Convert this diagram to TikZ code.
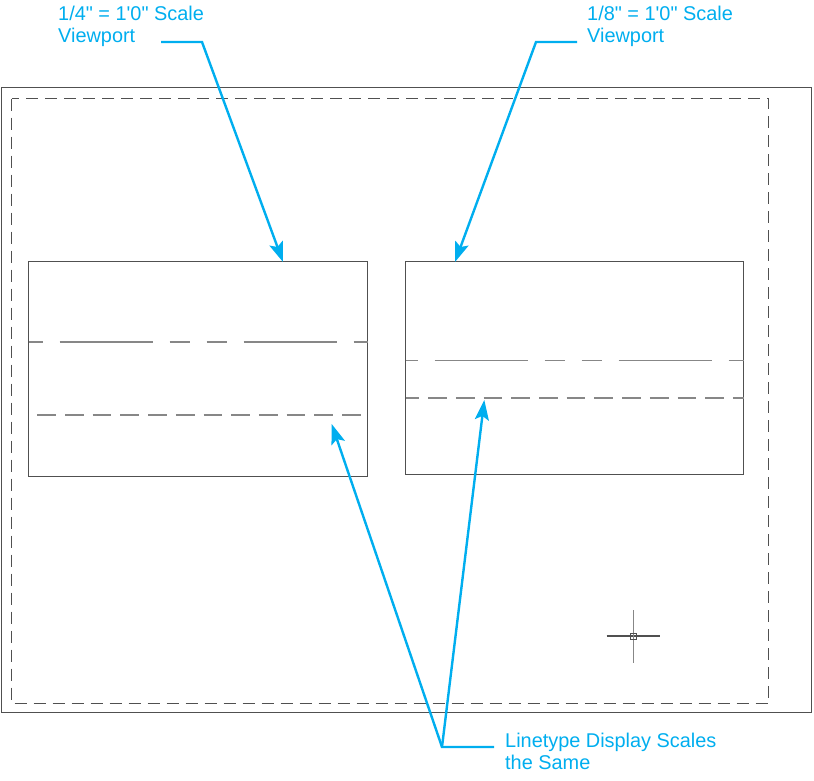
\documentclass[tikz,border=0pt]{standalone}
\usepackage{fontspec}
\newfontfamily\calloutfont{Liberation Sans}
\usetikzlibrary{arrows.meta}
\definecolor{callout}{RGB}{0,174,239}
\definecolor{sheetline}{RGB}{80,80,80}
\definecolor{ltype}{RGB}{135,135,135}
\tikzset{>={Stealth[length=20pt,width=14pt,inset=4pt]}}

\begin{document}
\begin{tikzpicture}[x=1pt,y=-1pt,
    leader/.style={callout,line width=2.4pt,line join=miter},
    lbl/.style={text=callout,font=\calloutfont\fontsize{19.9}{22}\selectfont,align=left,inner sep=0pt,anchor=base west},
    vport/.style={sheetline,line width=1.5pt},
    phantomline/.style={ltype,line width=1.3pt,dash pattern=on 93pt off 17pt on 20pt off 17pt on 20pt off 17pt},
    hiddenline/.style={ltype,line width=1.2pt,dash pattern=on 18.7pt off 9pt}]
    % \draw[help lines] (0,0) grid[step=50] (814,780);
    \useasboundingbox (0,0) rectangle (814,780);
    % sheet and printable area
    \draw[sheetline,line width=1.5pt] (1.5,87.5) rectangle (811.5,712.5);
    \draw[sheetline,line width=1.4pt,dash pattern=on 12pt off 7pt] (11.5,98.5) rectangle (768.5,703.5);
    % viewports
    \coordinate (vpL-nw) at (28.5,261.5);
    \coordinate (vpL-se) at (367.5,476.5);
    \coordinate (vpR-nw) at (405.5,261.5);
    \coordinate (vpR-se) at (743.5,474.5);
    \draw[vport] (vpL-nw) rectangle (vpL-se);
    \draw[vport] (vpR-nw) rectangle (vpR-se);
    % linetypes
    \draw[phantomline,dash phase=153pt] (28.5,342) -- (367.5,342);
    \draw[hiddenline] (37.3,415) -- (361,415);
    \draw[phantomline,dash phase=155pt] (405.5,360.5) -- (743.5,360.5);
    \draw[hiddenline,dash phase=5pt] (405.5,398) -- (743.5,398);
    % crosshair
    \draw[sheetline,line width=1.2pt] (606.5,636) -- (660,636);
    \draw[ltype,line width=1.5pt] (633.3,610) -- (633.3,663);
    \draw[sheetline,line width=1pt] (630.3,633) rectangle (636.3,639);
    % callouts (base = last line)
    \node[lbl] (scaleA) at (58,42) {1/4" = 1'0" Scale\\Viewport};
    \node[lbl] (scaleB) at (587,42) {1/8" = 1'0" Scale\\Viewport};
    \node[lbl] (same) at (505,769) {Linetype Display Scales\\the Same};
    \coordinate (startA) at (161,42);
    \coordinate (elbowA) at (202,42);
    \coordinate (tipA) at (283,262);
    \coordinate (startB) at (577,42);
    \coordinate (elbowB) at (536,42);
    \coordinate (tipB) at (455,262);
    \coordinate (startC) at (494,747);
    \coordinate (elbowC) at (442,747);
    \coordinate (tipC) at (331.7,424);
    \coordinate (tipD) at (484.3,400);
    \draw[leader,->] (startA) -- (elbowA) -- (tipA);
    \draw[leader,->] (startB) -- (elbowB) -- (tipB);
    \draw[leader,->] (startC) -- (elbowC) -- (tipC);
    \draw[leader,->] (elbowC) -- (tipD);
\end{tikzpicture}
\end{document}
